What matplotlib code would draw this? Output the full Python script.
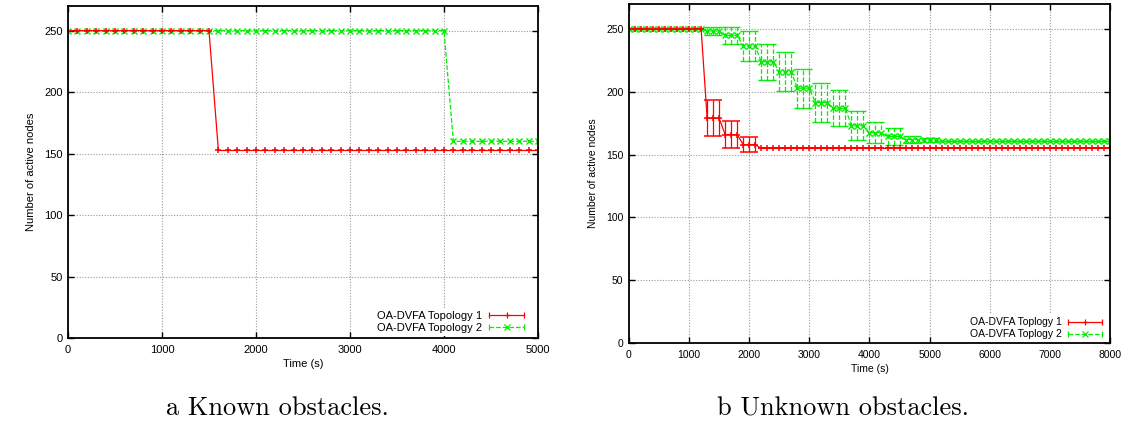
import matplotlib
matplotlib.use('Agg')
import matplotlib.pyplot as plt
from matplotlib.lines import Line2D
from matplotlib.legend_handler import HandlerLine2D, HandlerTuple

# (a) known obstacles, one sample every 100 s
known_time = list(range(0, 5001, 100))
known_topo1 = [250] * 16 + [152.5] * 35
known_topo2 = [250] * 41 + [160] * 10

# (b) unknown obstacles, one sample every 100 s
unknown_time = list(range(0, 8001, 100))
unk_topo1 = [250] * 13 + [179] * 3 + [166] * 3 + [158] * 3 + [155] * 59
unk_topo1_err = [0] * 13 + [14.5] * 3 + [10.5] * 3 + [6] * 3 + [0] * 59
green_levels = [248.5, 245, 236.5, 224, 216, 203, 191.5, 187, 173, 167.5, 164.5, 162, 161.5]
green_errs = [3.5, 7, 12, 14.5, 15.5, 15.5, 15.5, 14.5, 11.5, 8.5, 6.5, 2.5, 1.5]
unk_topo2 = [250] * 13 + [v for v in green_levels for _ in range(3)] + [160.5] * 29
unk_topo2_err = [0] * 13 + [e for e in green_errs for _ in range(3)] + [0] * 29

RED = '#ff0000'
GREEN = '#00ee00'
plt.rcParams['font.family'] = ['Liberation Sans', 'DejaVu Sans']

fig = plt.figure(figsize=(11.24, 4.23), dpi=100)
ax1 = fig.add_axes([0.0605, 0.2009, 0.4181, 0.7849])
ax2 = fig.add_axes([0.5596, 0.1891, 0.4279, 0.8014])


def style(ax, xmax, fs):
    ax.set_xlim(0, xmax)
    ax.set_ylim(0, 270)
    ax.set_yticks(range(0, 251, 50))
    ax.set_xticks(range(0, xmax + 1, 1000))
    ax.grid(True, color='#9a9a9a', linestyle=(0, (1, 1.5)), linewidth=0.8)
    ax.tick_params(direction='in', top=True, right=True, length=4, width=1,
                   labelsize=fs, pad=4)
    ax.tick_params(axis='x', pad=5)
    for s in ax.spines.values():
        s.set_linewidth(1.3)
    ax.set_xlabel('Time (s)', fontsize=fs, labelpad=3)
    ax.set_ylabel('Number of active nodes', fontsize=fs, labelpad=6)


def legend_handles(color, ls, marker):
    main = Line2D([], [], color=color, linestyle=ls, linewidth=0.9,
                  marker=marker, markersize=4, markeredgewidth=0.9)
    caps = Line2D([], [], color=color, linestyle='none', marker='|',
                  markersize=5, markeredgewidth=0.9)
    return (main, caps), {main: HandlerLine2D(numpoints=1),
                          caps: HandlerLine2D(numpoints=2, marker_pad=0)}


def add_legend(ax, labels, fs, anchor):
    h1, m1 = legend_handles(RED, '-', '+')
    h2, m2 = legend_handles(GREEN, '--', 'x')
    hmap = {tuple: HandlerTuple(ndivide=1, pad=0)}
    hmap.update(m1)
    hmap.update(m2)
    leg = ax.legend([h1, h2], labels, handler_map=hmap, loc='lower right',
                    bbox_to_anchor=anchor, markerfirst=False, fontsize=fs,
                    handlelength=3.2, handletextpad=0.6, labelspacing=0.2,
                    frameon=True, fancybox=False, framealpha=1,
                    facecolor='white', edgecolor='none', borderpad=0.3)
    leg.set_zorder(2.2)


# (a)
ax1.plot(known_time, known_topo2, color=GREEN, linestyle='--', linewidth=0.9,
         marker='x', markersize=4, markeredgewidth=1.0)
ax1.plot(known_time, known_topo1, color=RED, linestyle='-', linewidth=0.9,
         marker='+', markersize=5, markeredgewidth=1.1)
style(ax1, 5000, 8)
add_legend(ax1, ['OA-DVFA Topology 1', 'OA-DVFA Topology 2'], 8, (0.99, -0.012))

# (b)
eb2 = ax2.errorbar(unknown_time, unk_topo2, yerr=unk_topo2_err, color=GREEN,
                   linestyle='--', linewidth=0.9, marker='x', markersize=4,
                   markeredgewidth=1.0, elinewidth=0.9, capsize=2)
eb2[2][0].set_linestyle('--')
ax2.errorbar(unknown_time, unk_topo1, yerr=unk_topo1_err, color=RED,
             linestyle='-', linewidth=0.9, marker='+', markersize=4,
             markeredgewidth=1.1, elinewidth=0.9, capsize=2)
style(ax2, 8000, 7.5)
add_legend(ax2, ['OA-DVFA Toplogy 1', 'OA-DVFA Toplogy 2'], 7.5, (1.0, -0.014))

fig.text(0.247, 0.035, 'a Known obstacles.', family='cmr10', fontsize=19,
         ha='center', va='center')
fig.text(0.75, 0.035, 'b Unknown obstacles.', family='cmr10', fontsize=19,
         ha='center', va='center')

fig.savefig('out.png', dpi=100)
